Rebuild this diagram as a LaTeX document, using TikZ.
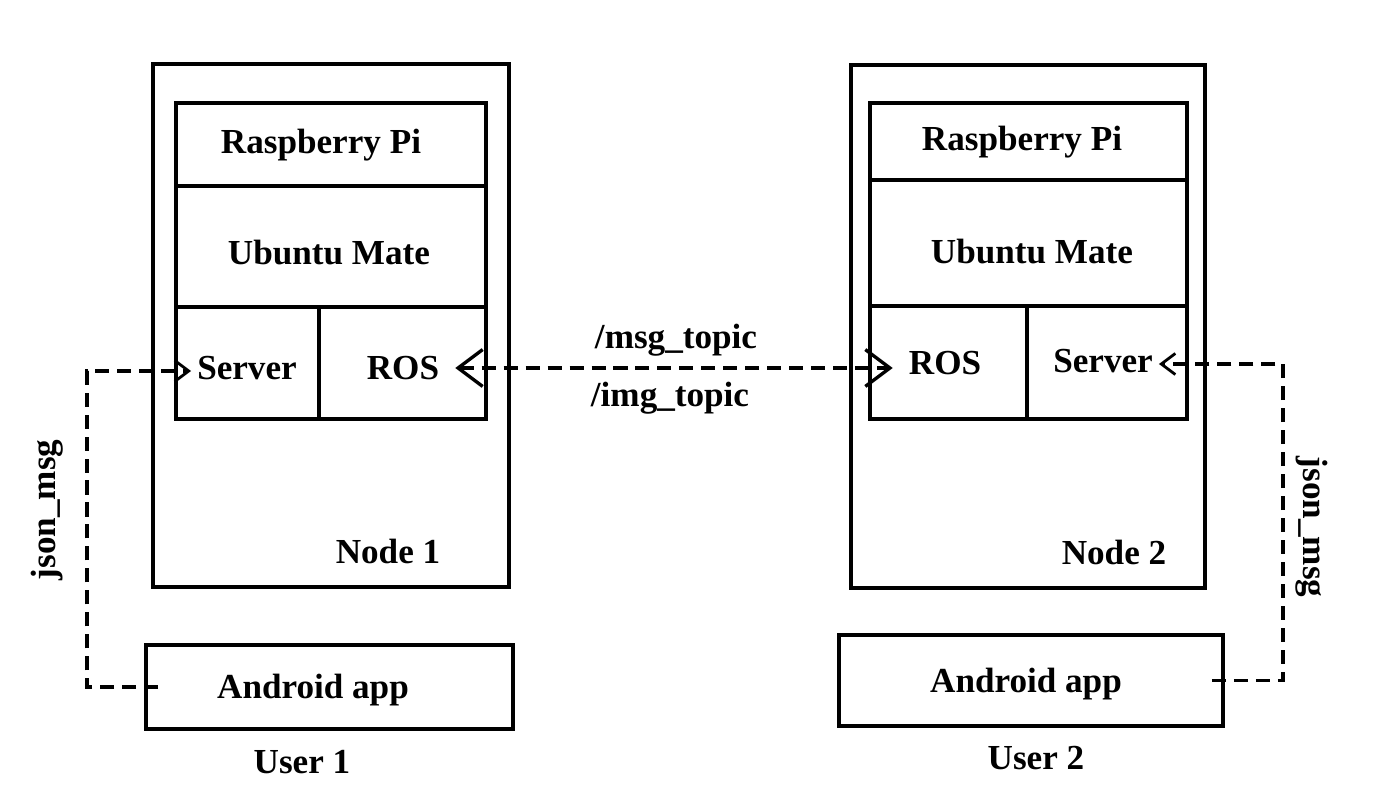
\documentclass[tikz,border=0pt]{standalone}
\usepackage{fontspec}
\setmainfont{Liberation Serif}
\usetikzlibrary{arrows.meta}

\tikzset{
  every node/.style={font=\fontsize{20}{24}\selectfont\bfseries},
  box/.style={draw, line width=2.2pt, inner sep=0pt},
  tipgap/.style={inner xsep=9pt},
  link/.style={line width=1.9pt, dash pattern=on 8pt off 4.5pt},
  bigtip/.tip={Straight Barb[length=14pt, width=21pt, line width=1.9pt]},
  smalltip/.tip={Straight Barb[length=8pt, width=12pt, line width=1.6pt]}
}

\begin{document}
\begin{tikzpicture}[x=0.02cm, y=-0.02cm]
      \useasboundingbox (0,0) rectangle (1377,793);

      \node[box, minimum width=7.12cm, minimum height=10.46cm] (node1)  at (331,325.5)  {};
      \node[box, minimum width=6.2cm,  minimum height=1.66cm]  (rpi1)   at (331,144.5)  {};
      \node[box, minimum width=6.2cm,  minimum height=2.42cm]  (ubu1)   at (331,246.5)  {};
      \node[box, minimum width=2.86cm, minimum height=2.24cm]  (srv1)   at (247.5,363)  {};
      \node[box, minimum width=3.34cm, minimum height=2.24cm]  (ros1)   at (402.5,363)  {};
      \node[box, minimum width=7.34cm, minimum height=1.68cm]  (app1)   at (329.5,687)  {};

      \node[box, minimum width=7.08cm, minimum height=10.46cm] (node2)  at (1028,326.5) {};
      \node[box, minimum width=6.34cm, minimum height=1.54cm]  (rpi2)   at (1028.5,141.5) {};
      \node[box, minimum width=6.34cm, minimum height=2.52cm]  (ubu2)   at (1028.5,243) {};
      \node[box, minimum width=3.14cm, minimum height=2.26cm]  (ros2)   at (948.5,362.5) {};
      \node[box, minimum width=3.2cm,  minimum height=2.26cm]  (srv2)   at (1107,362.5) {};
      \node[box, minimum width=7.68cm, minimum height=1.82cm]  (app2)   at (1031,680.5) {};

      \node (rpi1txt)  at (321,145)  {Raspberry Pi};
      \node (ubu1txt)  at (329,253)  {Ubuntu Mate};
      \node (srv1txt)  at (247,368)  {Server};
      \node[tipgap] (ros1txt)  at (403,368)  {ROS};
      \node (n1txt)    at (388,551)  {Node 1};
      \node (app1txt)  at (313,690)  {Android app};
      \node (user1)    at (302,762)  {User 1};

      \node (rpi2txt)  at (1022,142) {Raspberry Pi};
      \node (ubu2txt)  at (1032,252) {Ubuntu Mate};
      \node[tipgap] (ros2txt)  at (945,363)  {ROS};
      \node (srv2txt)  at (1103,361) {Server};
      \node (n2txt)    at (1114,552) {Node 2};
      \node (app2txt)  at (1026,684) {Android app};
      \node (user2)    at (1036,758) {User 2};

      \node (msg)      at (676,340)  {/msg\_topic};
      \node (img)      at (670,398)  {/img\_topic};
      \node[rotate=90]  (json1) at (47,510)   {json\_msg};
      \node[rotate=-90] (json2) at (1312,527) {json\_msg};

      \coordinate (c1) at (87,371);
      \coordinate (c2) at (1283,364);

      \draw [link, bigtip-bigtip] (ros1txt.east) -- (ros1txt.east -| ros2txt.west);

      \draw [link, -smalltip] ([xshift=0.28cm]app1.west) -| (c1) -- (c1 -| srv1txt.west);
      \draw [link, -smalltip] ([xshift=-0.26cm]app2.east) -| (c2) -- (c2 -| srv2txt.east);
    \end{tikzpicture}
\end{document}
